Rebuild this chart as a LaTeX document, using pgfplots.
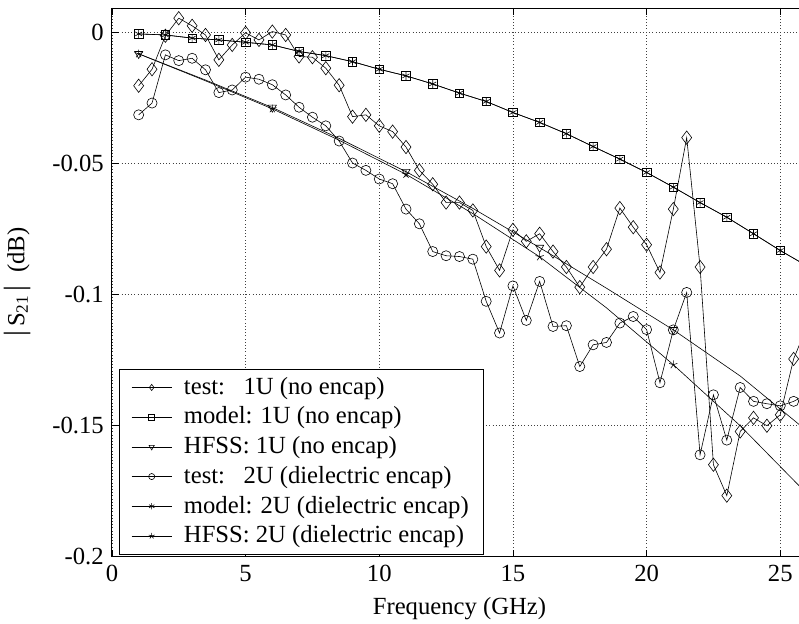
\documentclass[border=0pt]{standalone}
\usepackage{fontspec}
\setmainfont{Liberation Serif}
\usepackage{pgfplots}
\pgfplotsset{compat=1.18}
\begin{document}
\fontsize{18}{21}\selectfont
\begin{tikzpicture}
\begin{axis}[
  scale only axis, width=521.6pt, height=411.75pt,
  xmin=0, xmax=26, ymin=-0.2, ymax=0.0095,
  xtick={0,5,10,15,20,25}, xticklabels={0,5,10,15,20,25},
  ytick={-0.2,-0.15,-0.1,-0.05,0}, yticklabels={-0.2,-0.15,-0.1,-0.05,0},
  tick align=inside, major tick length=5pt,
  grid=major, grid style={dotted, black!75, line width=0.6pt},
  axis line style={line width=0.7pt, black},
  tick style={black, line width=0.6pt},
  tick label style={font=\fontsize{18.5}{21}\selectfont},
  label style={font=\fontsize{18.5}{21}\selectfont},
  xlabel={Frequency (GHz)},
  ylabel={{\fontsize{22}{22}\selectfont|}\,S\textsubscript{21}\,{\fontsize{22}{22}\selectfont|}\ \ (dB)},
  ylabel style={yshift=4pt},
  every axis plot/.append style={black, line width=0.45pt, mark options={solid, line width=0.45pt}},
  legend style={at={(rel axis cs:0.0102,0.0036)}, anchor=south west,
    font=\fontsize{18.5}{21}\selectfont, draw=black, line width=0.6pt,
    inner xsep=9pt, inner ysep=4pt, row sep=2.75pt, column sep=7pt},
  legend cell align=left,
  legend image code/.code={\draw[mark repeat=2,mark phase=2,#1, mark size=2.3pt] plot coordinates {(0pt,0pt)(15pt,0pt)(30pt,0pt)};},
]
% test 1U
\addplot[mark=diamond, mark size=5pt] coordinates {
(1,-0.0202)(1.5,-0.0139)(2,-0.0011)(2.5,0.0056)(3,0.0027)(3.5,-0.0008)(4,-0.0103)(4.5,-0.0046)
(5,0.0000)(5.5,-0.0027)(6,0.0005)(6.5,-0.0008)(7,-0.0090)(7.5,-0.0093)(8,-0.0135)(8.5,-0.0200)
(9,-0.0320)(9.5,-0.0313)(10,-0.0355)(10.5,-0.0377)(11,-0.0436)(11.5,-0.0525)(12,-0.0578)(12.5,-0.0648)
(13,-0.0648)(13.5,-0.0678)(14,-0.0816)(14.5,-0.0907)(15,-0.0752)(15.5,-0.0796)(16,-0.0767)(16.5,-0.0835)
(17,-0.0894)(17.5,-0.0971)(18,-0.0894)(18.5,-0.0826)(19,-0.0669)(19.5,-0.0742)(20,-0.0809)(20.5,-0.0915)
(21,-0.0673)(21.5,-0.0400)(22,-0.0894)(22.5,-0.1649)(23,-0.1767)(23.5,-0.1522)(24,-0.1470)(24.5,-0.1500)
(25,-0.1458)(25.5,-0.1245)(26,-0.1120)};
\addlegendentry{test:\ \ \ 1U (no encap)}
% model 1U
\addplot[mark=square, mark size=3.2pt] coordinates {
(1,-0.0004)(2,-0.0008)(3,-0.0020)(4,-0.0027)(5,-0.0036)(6,-0.0046)(7,-0.0071)(8,-0.0087)(9,-0.0110)
(10,-0.0139)(11,-0.0164)(12,-0.0195)(13,-0.0230)(14,-0.0262)(15,-0.0304)(16,-0.0342)(17,-0.0385)
(18,-0.0434)(19,-0.0482)(20,-0.0533)(21,-0.0589)(22,-0.0648)(23,-0.0704)(24,-0.0767)(25,-0.0831)(26,-0.0890)};
\addlegendentry{model: 1U (no encap)}
% HFSS 1U
\addplot[mark=triangle, mark size=3.5pt, mark options={rotate=180}, mark repeat=2] coordinates {
(1,-0.0080)(3.5,-0.0180)(6,-0.0285)(8.5,-0.0403)(11,-0.0530)(13.5,-0.0670)(16,-0.0820)
(18.5,-0.0975)(21,-0.1134)(23.5,-0.1310)(26,-0.1520)};
\addlegendentry{HFSS: 1U (no encap)}
% test 2U
\addplot[mark=o, mark size=3.8pt] coordinates {
(1,-0.0313)(1.5,-0.0268)(2,-0.0084)(2.5,-0.0106)(3,-0.0097)(3.5,-0.0141)(4,-0.0228)(4.5,-0.0218)
(5,-0.0169)(5.5,-0.0177)(6,-0.0198)(6.5,-0.0237)(7,-0.0284)(7.5,-0.0322)(8,-0.0355)(8.5,-0.0413)
(9,-0.0497)(9.5,-0.0525)(10,-0.0558)(10.5,-0.0576)(11,-0.0673)(11.5,-0.0729)(12,-0.0835)(12.5,-0.0851)
(13,-0.0854)(13.5,-0.0864)(14,-0.1025)(14.5,-0.1146)(15,-0.0966)(15.5,-0.1098)(16,-0.0949)(16.5,-0.1121)
(17,-0.1118)(17.5,-0.1274)(18,-0.1191)(18.5,-0.1182)(19,-0.1108)(19.5,-0.1083)(20,-0.1133)(20.5,-0.1336)
(21,-0.1134)(21.5,-0.0991)(22,-0.1611)(22.5,-0.1382)(23,-0.1555)(23.5,-0.1354)(24,-0.1407)(24.5,-0.1416)
(25,-0.1424)(25.5,-0.1407)(26,-0.1380)};
\addlegendentry{test:\ \ \ 2U (dielectric encap)}
% model 2U
\addplot[mark=asterisk, mark size=3pt] coordinates {
(1,-0.0004)(2,-0.0008)(3,-0.0020)(4,-0.0027)(5,-0.0036)(6,-0.0046)(7,-0.0071)(8,-0.0087)(9,-0.0110)
(10,-0.0139)(11,-0.0164)(12,-0.0195)(13,-0.0230)(14,-0.0262)(15,-0.0304)(16,-0.0342)(17,-0.0385)
(18,-0.0434)(19,-0.0482)(20,-0.0533)(21,-0.0589)(22,-0.0648)(23,-0.0704)(24,-0.0767)(25,-0.0831)(26,-0.0890)};
\addlegendentry{model: 2U (dielectric encap)}
% HFSS 2U
\addplot[mark=star, mark size=3.2pt, mark repeat=2] coordinates {
(1,-0.0080)(3.5,-0.0183)(6,-0.0290)(8.5,-0.0410)(11,-0.0540)(13.5,-0.0690)(16,-0.0855)
(18.5,-0.1050)(21,-0.1267)(23.5,-0.1500)(26,-0.1760)};
\addlegendentry{HFSS: 2U (dielectric encap)}
\end{axis}
\pgfresetboundingbox
\useasboundingbox ([xshift=-84pt,yshift=-50.25pt]current axis.south west) rectangle ([xshift=-6pt,yshift=6pt]current axis.north east);
\end{tikzpicture}
\end{document}
